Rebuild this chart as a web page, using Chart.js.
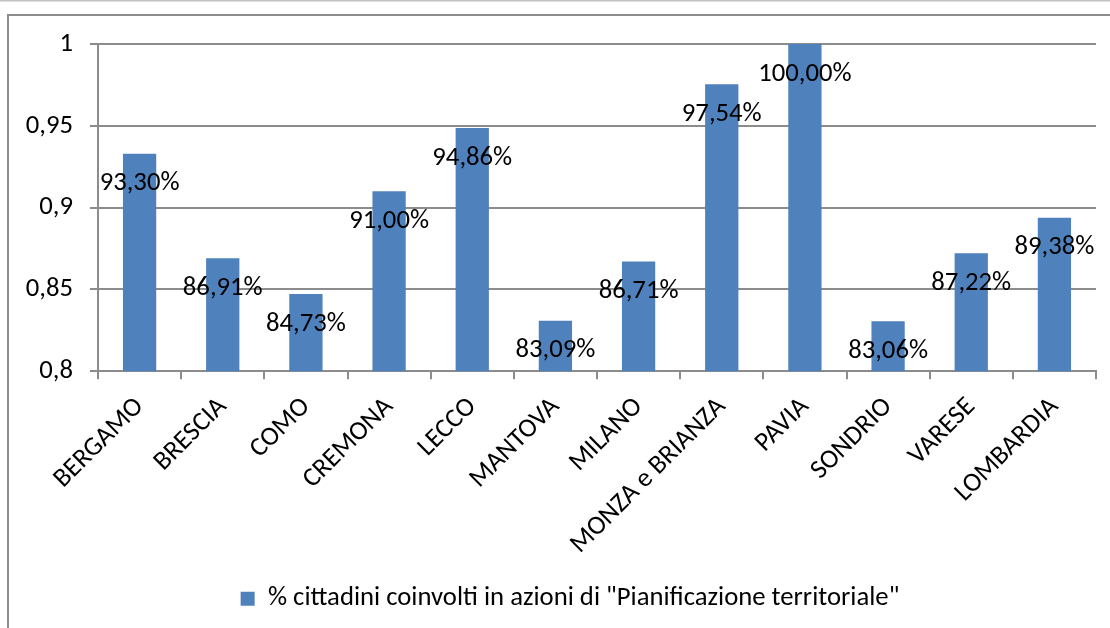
<!DOCTYPE html>
<html>
<head>
<meta charset="utf-8">
<script src="https://cdn.jsdelivr.net/npm/chart.js@4.4.1/dist/chart.umd.min.js"></script>
<style>
  html, body { margin: 0; padding: 0; background: #ffffff; }
  #wrap { width: 1110px; height: 628px; position: relative; overflow: hidden; }
  canvas { display: block; }
</style>
</head>
<body>
<div id="wrap"><canvas id="c" width="1110" height="628"></canvas></div>
<script>
const categories = ['BERGAMO', 'BRESCIA', 'COMO', 'CREMONA', 'LECCO', 'MANTOVA', 'MILANO', 'MONZA e BRIANZA', 'PAVIA', 'SONDRIO', 'VARESE', 'LOMBARDIA'];
const seriesValues = [0.9330, 0.8691, 0.8473, 0.9100, 0.9486, 0.8309, 0.8671, 0.9754, 1.0000, 0.8306, 0.8722, 0.8938];
const seriesLabel = '% cittadini coinvolti in azioni di "Pianificazione territoriale"';
const yTickValues = [0.8, 0.85, 0.9, 0.95, 1];
const yTickLabels = ['0,8', '0,85', '0,9', '0,95', '1'];

const FONT = 'Carlito, "Open Sans", Lato, sans-serif';
const FSIZE = 26.7;
const GRID = '#8c8c8c';
const BAR = '#4F81BD';

function fmtPct(v) {
  return (v * 100).toFixed(2).replace('.', ',') + '%';
}

const framePlugin = {
  id: 'frame',
  beforeDraw(chart) {
    const ctx = chart.ctx;
    ctx.save();
    ctx.fillStyle = '#ffffff';
    ctx.fillRect(0, 0, chart.width, chart.height);
    ctx.strokeStyle = '#c4c4c4';
    ctx.lineWidth = 1.5;
    ctx.beginPath();
    ctx.moveTo(0, 0.75);
    ctx.lineTo(chart.width, 0.75);
    ctx.stroke();
    ctx.strokeStyle = GRID;
    ctx.lineWidth = 2;
    ctx.beginPath();
    ctx.moveTo(8, chart.height);
    ctx.lineTo(8, 15);
    ctx.lineTo(chart.width, 15);
    ctx.stroke();
    ctx.restore();
  }
};

const legendShiftPlugin = {
  id: 'legendShift',
  afterLayout(chart) {
    if (chart.legend) {
      chart.legend.left += 17;
      chart.legend.right += 17;
    }
  }
};

const labelPlugin = {
  id: 'barLabels',
  afterDatasetsDraw(chart) {
    const ctx = chart.ctx;
    const meta = chart.getDatasetMeta(0);
    const data = chart.data.datasets[0].data;
    ctx.save();
    ctx.font = FSIZE + 'px ' + FONT;
    ctx.fillStyle = '#000000';
    ctx.textAlign = 'center';
    ctx.textBaseline = 'middle';
    meta.data.forEach((el, i) => {
      ctx.fillText(fmtPct(data[i]), el.x, el.y + 30);
    });
    ctx.restore();
  }
};

new Chart(document.getElementById('c'), {
  type: 'bar',
  data: {
    labels: categories,
    datasets: [{
      label: seriesLabel,
      data: seriesValues,
      backgroundColor: BAR,
      borderWidth: 0,
      categoryPercentage: 1.0,
      barPercentage: 0.4
    }]
  },
  options: {
    responsive: false,
    animation: false,
    devicePixelRatio: 1,
    layout: { padding: { top: 44, left: 10, right: 14, bottom: 6 } },
    plugins: {
      tooltip: { enabled: false },
      legend: {
        position: 'bottom',
        align: 'center',
        labels: {
          boxWidth: 14,
          boxHeight: 14,
          padding: 10,
          color: '#000000',
          font: { family: FONT, size: FSIZE }
        }
      }
    },
    scales: {
      x: {
        offset: true,
        grid: { offset: true, drawOnChartArea: false, drawTicks: true, tickLength: 8, color: GRID, lineWidth: 2 },
        border: { display: true, color: GRID, width: 2 },
        ticks: {
          autoSkip: false, maxRotation: 45, minRotation: 45, padding: 12,
          color: '#000000', font: { family: FONT, size: FSIZE }
        },
        afterFit(scale) { scale.height = 204; }
      },
      y: {
        min: 0.8,
        max: 1,
        afterBuildTicks(scale) { scale.ticks = yTickValues.map(v => ({ value: v })); },
        grid: { color: GRID, lineWidth: 2, drawTicks: true, tickLength: 8 },
        border: { display: true, color: GRID, width: 2 },
        ticks: {
          padding: 17,
          color: '#000000',
          font: { family: FONT, size: FSIZE },
          callback(value) {
            const idx = yTickValues.findIndex(v => Math.abs(v - value) < 1e-9);
            return idx >= 0 ? yTickLabels[idx] : '';
          }
        },
        afterFit(scale) { scale.width = 88; }
      }
    }
  },
  plugins: [framePlugin, legendShiftPlugin, labelPlugin]
});
</script>
</body>
</html>
